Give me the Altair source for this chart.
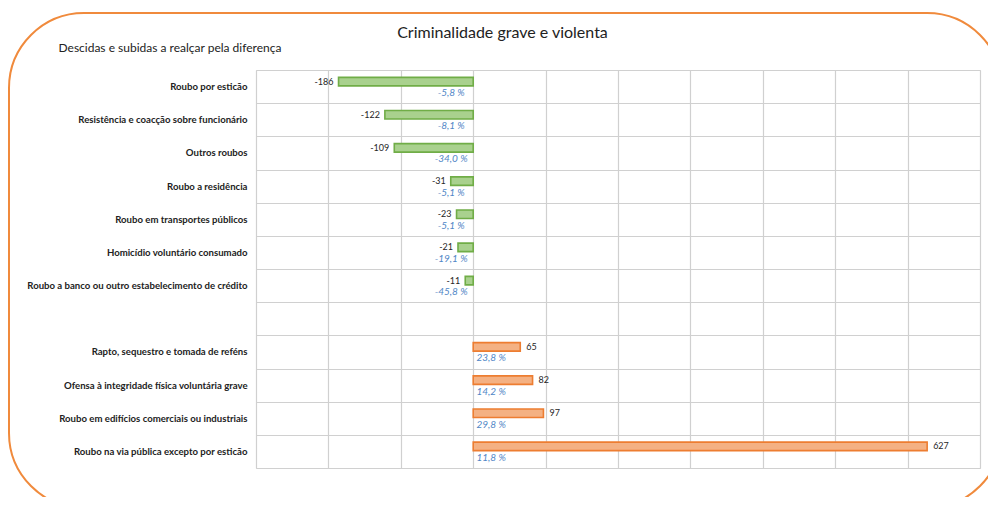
import altair as alt
import pandas as pd

categories = [
    "Roubo por esticão",
    "Resistência e coacção sobre funcionário",
    "Outros roubos",
    "Roubo a residência",
    "Roubo em transportes públicos",
    "Homicídio voluntário consumado",
    "Roubo a banco ou outro estabelecimento de crédito",
    "Rapto, sequestro e tomada de reféns",
    "Ofensa à integridade física voluntária grave",
    "Roubo em edifícios comerciais ou industriais",
    "Roubo na via pública  excepto por esticão",
]
diffs = [-186, -122, -109, -31, -23, -21, -11, 65, 82, 97, 627]
pcts = [-5.8, -8.1, -34.0, -5.1, -5.1, -19.1, -45.8, 23.8, 14.2, 29.8, 11.8]
x_ticks = [-300, -200, -100, 0, 100, 200, 300, 400, 500, 600, 700]

row_order = categories[:7] + [" "] + categories[7:]

df = pd.DataFrame({
    "cat": categories,
    "diff": diffs,
    "pct": pcts,
})
df["diff_label"] = df["diff"].map(lambda v: str(v))
df["pct_label"] = df["pct"].map(lambda p: f"{p:.1f}".replace(".", ",") + " %")
df["zero"] = 0

FONT = "Lato"
GREEN_FILL, GREEN_STROKE = "#a9d18e", "#70ad47"
ORANGE_FILL, ORANGE_STROKE = "#f4b183", "#ed7d31"
GRID = "#d0d0d0"
PCT_COLOR = "#4f86c6"

y_enc = alt.Y(
    "cat:N",
    sort=row_order,
    scale=alt.Scale(domain=row_order, paddingInner=0, paddingOuter=0),
    axis=alt.Axis(
        title="Descidas e subidas a realçar pela diferença",
        titleAngle=0, titleAlign="left", titleBaseline="middle",
        titleX=-198, titleY=-23, titleFont=FONT, titleFontSize=12,
        titleFontWeight="normal", titleColor="#222222",
        labelFont=FONT, labelFontSize=9.6, labelFontWeight="bold",
        labelColor="#222222", labelPadding=9, labelLimit=300,
        ticks=False, domain=False, grid=True, gridColor=GRID,
        gridWidth=1.2, tickBand="extent",
    ),
)
x_enc = alt.X(
    "diff:Q",
    scale=alt.Scale(domain=[-300, 700], nice=False, zero=False),
    axis=alt.Axis(
        orient="top", values=x_ticks, labels=False, ticks=False, domain=False,
        grid=True, gridColor=GRID, gridWidth=1.2,
        title="Criminalidade grave e violenta",
        titleX=246, titleY=-38, titleAlign="center", titleBaseline="middle",
        titleFont=FONT, titleFontSize=16, titleFontWeight="normal",
        titleColor="#222222",
    ),
)

base = alt.Chart(df)

bars = base.mark_bar(size=8.5, strokeWidth=1.6, yOffset=-5).encode(
    x=x_enc,
    x2="zero:Q",
    y=y_enc,
    fill=alt.condition("datum.diff < 0", alt.value(GREEN_FILL), alt.value(ORANGE_FILL)),
    stroke=alt.condition("datum.diff < 0", alt.value(GREEN_STROKE), alt.value(ORANGE_STROKE)),
)

neg_vals = base.transform_filter("datum.diff < 0").mark_text(
    align="right", baseline="middle", dx=-5, yOffset=-5,
    font=FONT, fontSize=9, color="#262626"
).encode(x="diff:Q", y=alt.Y("cat:N", sort=row_order), text="diff_label:N")

pos_vals = base.transform_filter("datum.diff > 0").mark_text(
    align="left", baseline="middle", dx=6, yOffset=-5,
    font=FONT, fontSize=9, color="#262626"
).encode(x="diff:Q", y=alt.Y("cat:N", sort=row_order), text="diff_label:N")

neg_pct = base.transform_filter("datum.diff < 0").mark_text(
    align="center", baseline="middle", dx=-22, yOffset=6.5,
    font=FONT, fontSize=10, fontStyle="italic", color=PCT_COLOR
).encode(x="zero:Q", y=alt.Y("cat:N", sort=row_order), text="pct_label:N")

pos_pct = base.transform_filter("datum.diff > 0").mark_text(
    align="center", baseline="middle", dx=18, yOffset=6.5,
    font=FONT, fontSize=10, fontStyle="italic", color=PCT_COLOR
).encode(x="zero:Q", y=alt.Y("cat:N", sort=row_order), text="pct_label:N")

frame = alt.Chart(pd.DataFrame({"a": [0]})).mark_rect(
    fill=None, fillOpacity=0, stroke="#f08a3c", strokeWidth=2, cornerRadius=75
).encode(
    x=alt.value(-247), x2=alt.value(746),
    y=alt.value(-57), y2=alt.value(438),
)

chart = alt.layer(bars, neg_vals, pos_vals, neg_pct, pos_pct, frame).properties(
    width=724,
    height=398,
    autosize=alt.AutoSizeParams(type="none"),
    padding={"left": 248, "top": 62, "right": 8, "bottom": 29},
).configure_view(stroke=GRID, strokeWidth=1.2).configure(background="white")

chart.save("out.html", embed_options={"renderer": "svg", "actions": False})
